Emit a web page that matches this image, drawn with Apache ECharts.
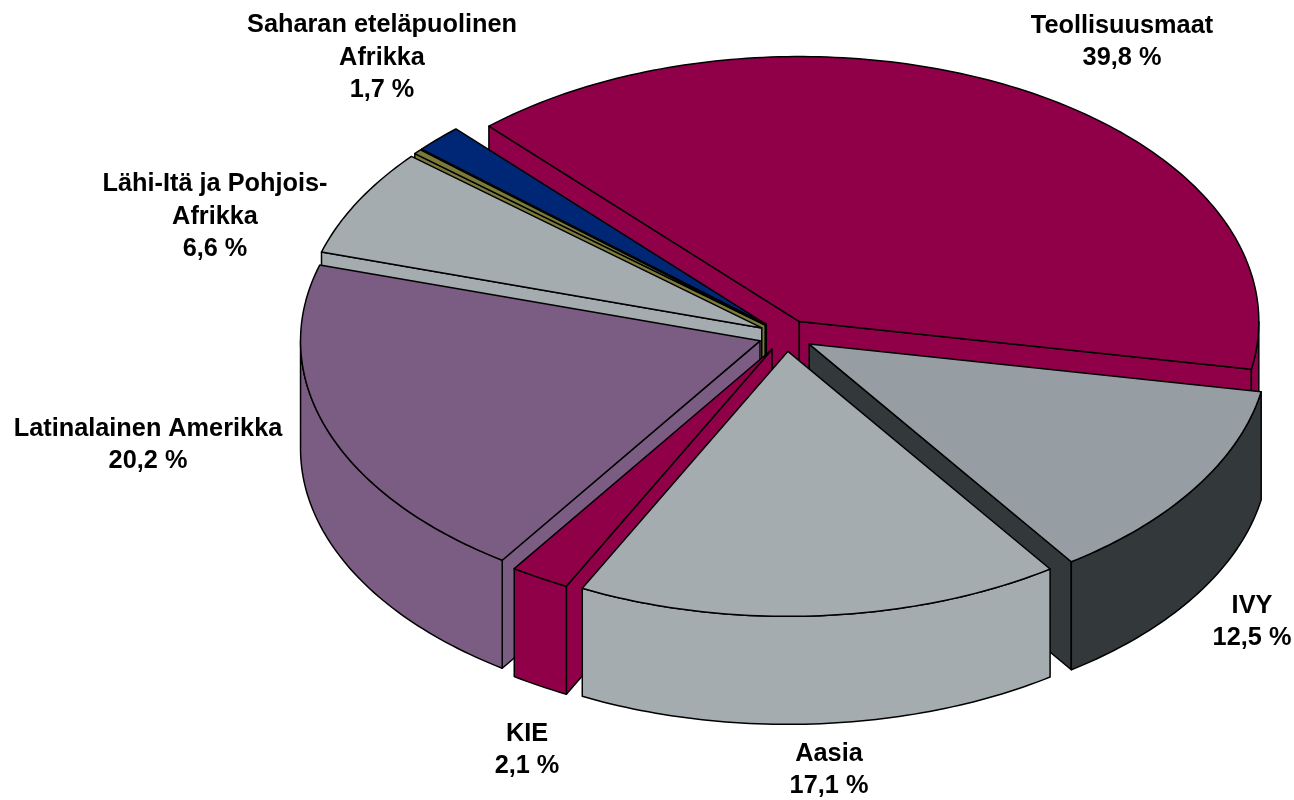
<!DOCTYPE html>
<html>
<head>
<meta charset="utf-8">
<title>Pie</title>
<script src="https://cdn.jsdelivr.net/npm/echarts@6/dist/echarts.min.js"></script>
<style>
html,body{margin:0;padding:0;background:#fff;}
#chart{width:1294px;height:800px;}
</style>
</head>
<body>
<div id="chart"></div>
<script>
// arvot kuvasta
var names = ["Teollisuusmaat","IVY","Aasia","KIE","Latinalainen Amerikka","Lähi-Itä ja Pohjois-Afrikka","muu","Saharan eteläpuolinen Afrikka"];
var values = [39.8,12.5,17.1,2.1,20.2,6.6,0.3,1.7];
var labelLines = [["Teollisuusmaat"],["IVY"],["Aasia"],["KIE"],["Latinalainen Amerikka"],["Lähi-Itä ja Pohjois-","Afrikka"],null,["Saharan eteläpuolinen","Afrikka"]];
var topColors = ["#8f0048","#969da3","#a5acaf","#8f0048","#7b5c82","#a5acaf","#7a7a3a","#002776"];
var wallColors = ["#8f0048","#33383b","#a5acaf","#8f0048","#7b5c82","#a5acaf","#7a7a3a","#002776"];

// piirtojärjestys takaa eteen
var drawOrder = [0,7,6,5,4,1,3,2];

// asettelu
var cx = 786, cy = 335.5, rx = 459.5, ry = 265, depth = 108, explode = 0.06;
var firstAngle = -42.5;
var labelPos = [[1122,42],[1252,622],[829,770],[527,750],[148,445],[215,217],null,[382,58]];

var total = 0;
values.forEach(function(v){ total += v; });
var starts = [], acc = firstAngle;
values.forEach(function(v){
    starts.push(acc);
    acc += v / total * 360;
});

function pt(ax, ay, deg, dy){
    var r = deg * Math.PI / 180;
    return [ax + rx * Math.sin(r), ay - ry * Math.cos(r) + (dy || 0)];
}
function arc(ax, ay, a0, a1, dy){
    var out = [], n = Math.max(2, Math.ceil(Math.abs(a1 - a0)));
    for (var i = 0; i <= n; i++) {
        out.push(pt(ax, ay, a0 + (a1 - a0) * i / n, dy));
    }
    return out;
}
function poly(points, fill){
    return {
        type: "polygon",
        shape: { points: points },
        style: { fill: fill, stroke: "#000", lineWidth: 1.5, lineJoin: "round" }
    };
}
function radialWall(ax, ay, a, fill){
    var e = pt(ax, ay, a);
    return poly([[ax, ay], e, [e[0], e[1] + depth], [ax, ay + depth]], fill);
}

function renderSlice(params, api){
    var i = api.value(0);
    var a0 = starts[i];
    var a1 = a0 + api.value(1) / total * 360;
    var mid = (a0 + a1) / 2 * Math.PI / 180;
    var ax = cx + rx * explode * Math.sin(mid);
    var ay = cy - ry * explode * Math.cos(mid);
    var kids = [];

    // leikkauspinnat, vain katsojaan päin olevat
    if (Math.sin(a0 * Math.PI / 180) < 0) kids.push(radialWall(ax, ay, a0, wallColors[i]));
    if (Math.sin(a1 * Math.PI / 180) > 0) kids.push(radialWall(ax, ay, a1, wallColors[i]));
    // ulkoreuna, vain etupuoli
    var f0 = Math.max(a0, 90), f1 = Math.min(a1, 270);
    if (f1 > f0) {
        kids.push(poly(arc(ax, ay, f0, f1, 0).concat(arc(ax, ay, f1, f0, depth)), wallColors[i]));
    }
    // pintasektori
    kids.push(poly([[ax, ay]].concat(arc(ax, ay, a0, a1, 0)), topColors[i]));

    if (labelLines[i]) {
        var pct = String(api.value(1)).replace(".", ",") + " %";
        kids.push({
            type: "text",
            x: labelPos[i][0],
            y: labelPos[i][1],
            z2: 10,
            style: {
                text: labelLines[i].concat([pct]).join("\n"),
                fill: "#000",
                font: "bold 25.3px 'Liberation Sans'",
                lineHeight: 32.5,
                align: "center",
                verticalAlign: "middle"
            }
        });
    }
    return { type: "group", children: kids };
}

var myChart = echarts.init(document.getElementById("chart"));
myChart.setOption({
    animation: false,
    backgroundColor: "#fff",
    series: [{
        type: "custom",
        coordinateSystem: "none",
        silent: true,
        renderItem: renderSlice,
        data: drawOrder.map(function(i){ return { name: names[i], value: [i, values[i]] }; })
    }]
});
</script>
</body>
</html>
